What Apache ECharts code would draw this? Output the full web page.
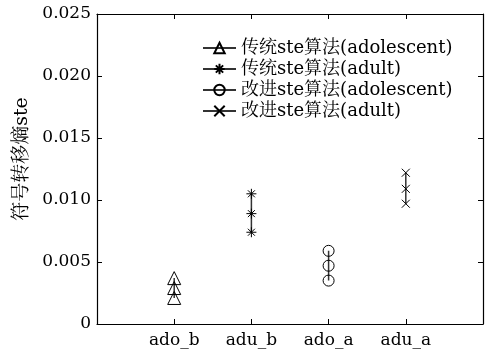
<!DOCTYPE html>
<html>
<head>
<meta charset="utf-8">
<script src="https://cdn.jsdelivr.net/npm/echarts@6/dist/echarts.min.js"></script>
<style>
  html, body { margin: 0; padding: 0; background: #fff; }
  #chart { width: 487px; height: 349px; }
</style>
</head>
<body>
<div id="chart"></div>
<script>
  // categories on the x axis (placed at 1..4)
  const categories = ['ado_b', 'adu_b', 'ado_a', 'adu_a'];
  const yTicks = [0, 0.005, 0.01, 0.015, 0.02, 0.025];

  // three values per group (upper / middle / lower)
  const oldAdolescent = [0.0037, 0.0029, 0.0021];
  const oldAdult = [0.0105, 0.0089, 0.0074];
  const newAdolescent = [0.0059, 0.0047, 0.0035];
  const newAdult = [0.0122, 0.0109, 0.0097];

  const names = ['传统ste算法(adolescent)', '传统ste算法(adult)', '改进ste算法(adolescent)', '改进ste算法(adult)'];

  const font = "'DejaVu Serif', 'Liberation Serif', 'Noto Serif CJK SC', 'Noto Sans CJK SC', serif";
  const ink = '#000';

  function pts(catIdx, vals) {
    return vals.map(v => [catIdx + 1, v]);
  }

  function makeSeries(name, catIdx, vals, symbol, size) {
    return {
      name: name,
      type: 'line',
      data: pts(catIdx, vals),
      symbol: symbol,
      symbolSize: size,
      showSymbol: true,
      lineStyle: { color: '#333', width: 1.5 },
      itemStyle: { color: 'rgba(0,0,0,0)', borderColor: ink, borderWidth: 1 },
      emphasis: { disabled: true },
      z: 3
    };
  }

  const starPath = 'path://M0,-1L0,1M-1,0L1,0M-0.7,-0.7L0.7,0.7M-0.7,0.7L0.7,-0.7';
  const crossPath = 'path://M-1,-1L1,1M-1,1L1,-1';

  const tick = { show: true, inside: true, length: 5, lineStyle: { color: ink } };
  const axLine = { show: true, onZero: false, lineStyle: { color: ink, width: 1.2 } };

  const chart = echarts.init(document.getElementById('chart'));
  const option = {
    animation: false,
    backgroundColor: '#fff',
    textStyle: { fontFamily: font, color: ink },
    grid: { left: 97, right: 4, top: 14, bottom: 24 },
    legend: {
      orient: 'vertical',
      left: 197,
      top: 34,
      itemWidth: 33,
      itemHeight: 13,
      itemGap: 3,
      textStyle: { fontFamily: font, fontSize: 18, color: ink },
      data: names
    },
    xAxis: [
      {
        type: 'value', min: 0, max: 5, interval: 1,
        axisLine: axLine,
        axisTick: tick,
        splitLine: { show: false },
        axisLabel: {
          fontFamily: font, fontSize: 17, color: ink, margin: 8,
          formatter: v => categories[v - 1] || ''
        }
      },
      {
        type: 'value', min: 0, max: 5, interval: 1, position: 'top',
        axisLine: axLine,
        axisTick: tick,
        splitLine: { show: false },
        axisLabel: { show: false }
      }
    ],
    yAxis: [
      {
        type: 'value', min: yTicks[0], max: yTicks[yTicks.length - 1], interval: 0.005,
        name: '符号转移熵ste',
        nameLocation: 'middle',
        nameGap: 63,
        nameTextStyle: { fontFamily: font, fontSize: 19, color: ink, padding: [0, 0, 0, 20] },
        axisLine: axLine,
        axisTick: tick,
        splitLine: { show: false },
        axisLabel: {
          fontFamily: font, fontSize: 17, color: ink, margin: 6,
          formatter: v => v === 0 ? '0' : v.toFixed(3)
        }
      },
      {
        type: 'value', min: yTicks[0], max: yTicks[yTicks.length - 1], interval: 0.005,
        position: 'right',
        axisLine: axLine,
        axisTick: tick,
        splitLine: { show: false },
        axisLabel: { show: false }
      }
    ],
    series: [
      makeSeries(names[0], 0, oldAdolescent, 'triangle', 13),
      makeSeries(names[1], 1, oldAdult, starPath, 10),
      makeSeries(names[2], 2, newAdolescent, 'circle', 11),
      makeSeries(names[3], 3, newAdult, crossPath, 8)
    ]
  };
  chart.setOption(option);
</script>
</body>
</html>
